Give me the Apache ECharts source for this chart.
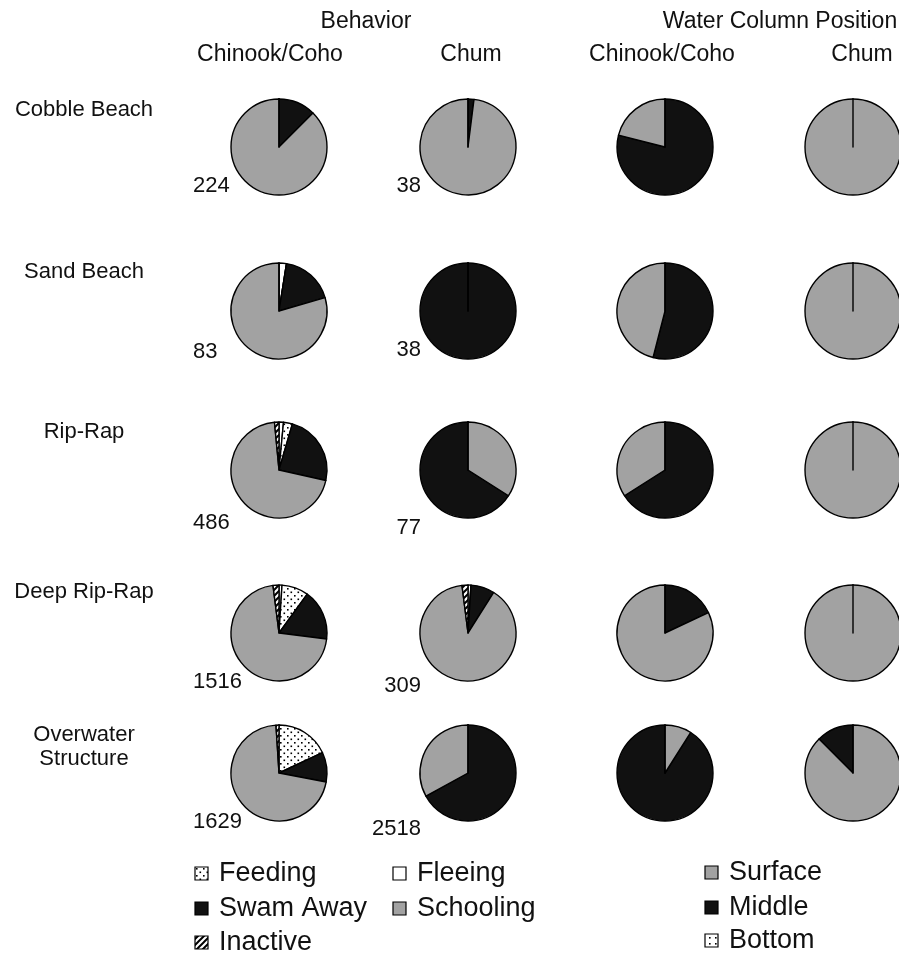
<!DOCTYPE html>
<html>
<head>
<meta charset="utf-8">
<title>Behavior and water column position</title>
<script src="https://cdn.jsdelivr.net/npm/echarts@6/dist/echarts.min.js"></script>
<style>
    html, body { margin: 0; padding: 0; background: #fff; }
    #main { width: 899px; height: 962px; }
</style>
</head>
<body>
<div id="main"></div>
<script>
var habitats = ['Cobble Beach', 'Sand Beach', 'Rip-Rap', 'Deep Rip-Rap', 'Overwater\nStructure'];
var behaviorNames = ['Fleeing', 'Feeding', 'Swam Away', 'Schooling', 'Inactive'];
var positionNames = ['Middle', 'Surface', 'Bottom'];

// one row per habitat, columns follow behaviorNames
var behaviorChinook = [
    [0, 0, 12.5, 87.5, 0],
    [2.5, 0, 18, 79.5, 0],
    [1.5, 3, 24, 70, 1.5],
    [1, 9, 17, 71, 2],
    [0, 18, 10, 71, 1]
];
var behaviorChum = [
    [0, 0, 2, 98, 0],
    [0, 0, 100, 0, 0],
    [0, 0, 66, 34, 0],
    [1, 0, 8, 89, 2],
    [0, 0, 67, 33, 0]
];
// columns follow positionNames
var positionChinook = [
    [79, 21, 0],
    [54, 46, 0],
    [66, 34, 0],
    [18, 82, 0],
    [91, 9, 0]
];
var positionChum = [
    [0, 100, 0],
    [0, 100, 0],
    [0, 100, 0],
    [0, 100, 0],
    [12.5, 87.5, 0]
];
// number of fish observed
var chinookN = [224, 83, 486, 1516, 1629];
var chumN = [38, 38, 77, 309, 2518];

// ---- layout ----
var colX = [279, 468, 665, 853];
var rowY = [147, 311, 470, 633, 773];
var pieR = 48;
var FONT = '"Liberation Sans", Arial, sans-serif';
// pies drawn the other way round in the original
var ccw = { behaviorChum: [2], positionChinook: [4], positionChum: [4] };

function makePattern(kind) {
    var s = kind === 'dots' ? 7 : 6;
    var c = document.createElement('canvas');
    c.width = s; c.height = s;
    var g = c.getContext('2d');
    g.fillStyle = '#fff';
    g.fillRect(0, 0, s, s);
    g.fillStyle = '#000';
    if (kind === 'dots') {
        g.fillRect(0, 0, 1.6, 1.6);
        g.fillRect(3.5, 3.5, 1.6, 1.6);
    } else if (kind === 'sparse') {
        g.fillRect(1, 1, 1.6, 1.6);
    } else {
        g.strokeStyle = '#000';
        g.lineWidth = 2;
        g.beginPath();
        g.moveTo(0, s); g.lineTo(s, 0);
        g.moveTo(-1, 1); g.lineTo(1, -1);
        g.moveTo(s - 1, s + 1); g.lineTo(s + 1, s - 1);
        g.stroke();
    }
    return { image: c, repeat: 'repeat' };
}

var GRAY = '#a2a2a2';
var BLACK = '#111111';
var colors = {
    'Fleeing': '#ffffff',
    'Feeding': makePattern('dots'),
    'Swam Away': BLACK,
    'Schooling': GRAY,
    'Inactive': makePattern('hatch'),
    'Middle': BLACK,
    'Surface': GRAY,
    'Bottom': makePattern('sparse')
};

function pie(names, values, col, row, clockwise) {
    return {
        type: 'pie',
        center: [colX[col], rowY[row]],
        radius: pieR,
        startAngle: 90,
        clockwise: clockwise,
        silent: true,
        animation: false,
        label: { show: false },
        labelLine: { show: false },
        emphasis: { disabled: true },
        itemStyle: { borderColor: '#000', borderWidth: 1.4 },
        data: names.map(function (n, i) {
            return { name: n, value: values[i], itemStyle: { color: colors[n] } };
        })
    };
}

var series = [];
for (var r = 0; r < habitats.length; r++) {
    series.push(pie(behaviorNames, behaviorChinook[r], 0, r, true));
    series.push(pie(behaviorNames, behaviorChum[r], 1, r, ccw.behaviorChum.indexOf(r) < 0));
    series.push(pie(positionNames, positionChinook[r], 2, r, ccw.positionChinook.indexOf(r) < 0));
    series.push(pie(positionNames, positionChum[r], 3, r, ccw.positionChum.indexOf(r) < 0));
}

function txt(s, x, y, size, align) {
    return {
        type: 'text', x: x, y: y, silent: true,
        style: {
            text: s, fontSize: size, fontFamily: FONT, fill: '#111',
            align: align || 'center', verticalAlign: 'middle', lineHeight: 24
        }
    };
}

var graphics = [];
// column headers
graphics.push(txt('Behavior', 366, 22, 23));
graphics.push(txt('Water Column Position', 780, 22, 23));
graphics.push(txt('Chinook/Coho', 270, 55, 23));
graphics.push(txt('Chum', 471, 55, 23));
graphics.push(txt('Chinook/Coho', 662, 55, 23));
graphics.push(txt('Chum', 862, 55, 23));
// habitat labels
var labelY = [110, 272, 432, 592, 747];
habitats.forEach(function (h, i) { graphics.push(txt(h, 84, labelY[i], 22)); });
// sample sizes
var nY1 = [186, 352, 523, 682, 822];
var nY2 = [186, 350, 528, 686, 829];
chinookN.forEach(function (n, i) { graphics.push(txt(String(n), 193, nY1[i], 22, 'left')); });
chumN.forEach(function (n, i) { graphics.push(txt(String(n), 421, nY2[i], 22, 'right')); });

// legend
function legendItem(name, x, y) {
    graphics.push({
        type: 'rect', silent: true,
        shape: { x: x, y: y - 7, width: 13, height: 13 },
        style: { fill: colors[name], stroke: '#000', lineWidth: 1.2 }
    });
    graphics.push(txt(name, x + 24, y, 27, 'left'));
}
legendItem('Feeding', 195, 874);
legendItem('Fleeing', 393, 874);
legendItem('Swam Away', 195, 909);
legendItem('Schooling', 393, 909);
legendItem('Inactive', 195, 943);
legendItem('Surface', 705, 873);
legendItem('Middle', 705, 908);
legendItem('Bottom', 705, 941);

var chart = echarts.init(document.getElementById('main'), null, { renderer: 'canvas' });
chart.setOption({
    backgroundColor: '#fff',
    animation: false,
    series: series,
    graphic: graphics
});
</script>
</body>
</html>
